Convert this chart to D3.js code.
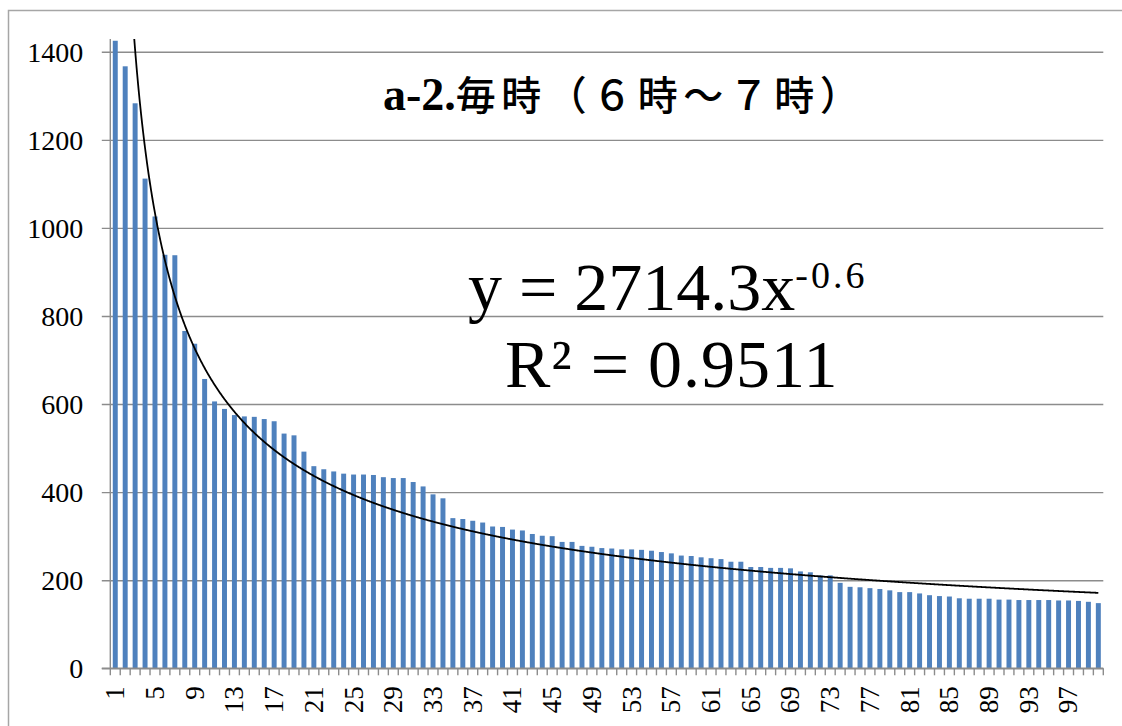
<!DOCTYPE html>
<html>
<head>
<meta charset="utf-8">
<script src="https://cdn.jsdelivr.net/npm/d3@7/dist/d3.min.js"></script>
<style>
  html, body { margin: 0; padding: 0; background: #fff; }
  svg { display: block; }
  .serif { font-family: "Liberation Serif", "DejaVu Serif", "Noto Sans CJK JP", serif; }
</style>
</head>
<body>
<svg id="chart" width="1122" height="726"></svg>
<script>
// Rank (1..100) and hourly count for the 6:00-7:00 slot
const categories = d3.range(1, 101);
const counts = [
  1425, 1367, 1283, 1112, 1026, 939, 938, 766, 737, 657,
  606, 589, 575, 572, 571, 566, 561, 533, 529, 492,
  459, 452, 447, 442, 440, 440, 439, 434, 432, 432,
  423, 413, 395, 386, 341, 339, 335, 331, 322, 321,
  315, 313, 305, 301, 300, 287, 287, 278, 276, 273,
  272, 270, 270, 269, 267, 264, 261, 256, 255, 252,
  250, 248, 242, 242, 230, 230, 228, 228, 227, 220,
  218, 211, 211, 194, 185, 184, 182, 180, 177, 173,
  173, 170, 166, 164, 163, 159, 158, 158, 158, 156,
  156, 155, 155, 155, 155, 154, 154, 153, 151, 148
];
const yTicks = [0, 200, 400, 600, 800, 1000, 1200, 1400];
const xTickLabels = [1, 5, 9, 13, 17, 21, 25, 29, 33, 37, 41, 45, 49, 53, 57, 61, 65, 69, 73, 77, 81, 85, 89, 93, 97];

// Power trendline y = a * x^b
const trendA = 2714.3;
const trendB = -0.6;
const rSquared = 0.9511;

const titleLead = "a-2.";
const titleRest = "毎時（６時～７時）";

const svg = d3.select("#chart");
const gridColor = "#8c8c8c";

const plot = { left: 110.3, right: 1103.3, top: 39, bottom: 668.3 };

const x = d3.scaleBand()
  .domain(categories)
  .range([plot.left, plot.right])
  .paddingInner(0.5)
  .paddingOuter(0.25);

const y = d3.scaleLinear()
  .domain([0, 1429])
  .range([plot.bottom, plot.top]);

// Outer chart frame
svg.append("path")
  .attr("d", `M8.5,740 V10.5 H1140`)
  .attr("fill", "none")
  .attr("stroke", "#a6a6a6")
  .attr("stroke-width", 1.5);

// Horizontal gridlines with outward y ticks
const yAxis = d3.axisLeft(y)
  .tickValues(yTicks)
  .tickSize(-(plot.right - plot.left))
  .tickSizeOuter(0)
  .tickPadding(27)
  .tickFormat(d3.format("d"));

const gy = svg.append("g")
  .attr("transform", `translate(${plot.left},0)`)
  .call(yAxis)
  .attr("font-family", null)
  .attr("font-size", null);
gy.select(".domain").remove();
gy.selectAll(".tick line")
  .attr("x1", -8.5)
  .attr("stroke", gridColor)
  .attr("stroke-width", 1.4);
gy.selectAll(".tick text")
  .attr("class", "serif")
  .style("font-size", "28px")
  .attr("fill", "#000")
  .attr("dy", "0.33em");

// Bars
const clipId = "plot-clip";
svg.append("clipPath").attr("id", clipId)
  .append("rect")
  .attr("x", plot.left).attr("y", plot.top)
  .attr("width", plot.right - plot.left)
  .attr("height", plot.bottom - plot.top);

svg.append("g")
  .selectAll("rect")
  .data(counts)
  .join("rect")
  .attr("x", (d, i) => x(categories[i]))
  .attr("y", d => y(d))
  .attr("width", x.bandwidth())
  .attr("height", d => y(0) - y(d))
  .attr("fill", "#4f81bd");

// Y axis line
svg.append("line")
  .attr("x1", plot.left).attr("x2", plot.left)
  .attr("y1", plot.top).attr("y2", plot.bottom)
  .attr("stroke", gridColor)
  .attr("stroke-width", 1.4);

// X axis: baseline, ticks at category boundaries, rotated labels
const boundaries = categories.map((c, i) => plot.left + i * (plot.right - plot.left) / categories.length)
  .concat([plot.right]);

svg.append("line")
  .attr("x1", plot.left - 8.5).attr("x2", plot.right)
  .attr("y1", y(0)).attr("y2", y(0))
  .attr("stroke", gridColor)
  .attr("stroke-width", 1.4);

svg.append("g")
  .selectAll("line")
  .data(boundaries)
  .join("line")
  .attr("x1", d => d).attr("x2", d => d)
  .attr("y1", y(0)).attr("y2", y(0) + 7)
  .attr("stroke", gridColor)
  .attr("stroke-width", 1.4);

svg.append("g")
  .selectAll("text")
  .data(xTickLabels)
  .join("text")
  .attr("class", "serif")
  .attr("transform", d => `translate(${x(d) + x.bandwidth() / 2},${y(0) + 18}) rotate(-90)`)
  .attr("text-anchor", "end")
  .attr("dy", "0.33em")
  .style("font-size", "27px")
  .attr("fill", "#000")
  .text(d => d);

// Power trendline, evaluated along the rank axis
const trendPts = d3.range(1, 100.001, 0.05).map(v => [v, trendA * Math.pow(v, trendB)]);
const xCont = d3.scaleLinear()
  .domain([1, 100])
  .range([x(1) + x.bandwidth() / 2, x(100) + x.bandwidth() / 2]);

svg.append("path")
  .datum(trendPts)
  .attr("clip-path", `url(#${clipId})`)
  .attr("fill", "none")
  .attr("stroke", "#000")
  .attr("stroke-width", 1.8)
  .attr("d", d3.line().x(d => xCont(d[0])).y(d => y(d[1])));

// Title
const title = svg.append("text")
  .attr("class", "serif")
  .attr("x", 383)
  .attr("y", 110)
  .attr("fill", "#000");
title.append("tspan")
  .style("font-size", "46px")
  .style("font-weight", "bold")
  .text(titleLead);
title.append("tspan")
  .style("font-size", "40px")
  .style("font-weight", "500")
  .attr("letter-spacing", 5.5)
  .text(titleRest);

// Trendline equation and R²
const eq = svg.append("text")
  .attr("class", "serif")
  .attr("x", 468)
  .attr("y", 310)
  .style("font-size", "68px")
  .attr("fill", "#000");
eq.append("tspan").text(`y = ${trendA}x`);
eq.append("tspan")
  .style("font-size", "38px")
  .attr("dy", -22)
  .attr("letter-spacing", 3)
  .text(`${trendB}`);

svg.append("text")
  .attr("class", "serif")
  .attr("x", 505)
  .attr("y", 387)
  .style("font-size", "68px")
  .attr("letter-spacing", 1)
  .attr("fill", "#000")
  .text(`R² = ${rSquared}`);
</script>
</body>
</html>
